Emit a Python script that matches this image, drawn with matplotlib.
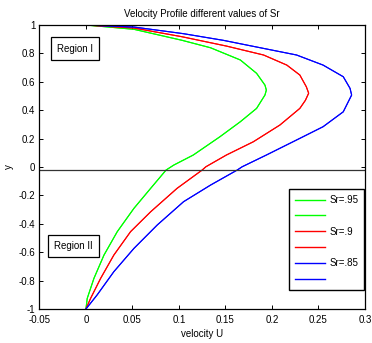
import matplotlib
matplotlib.use("Agg")
import matplotlib.pyplot as plt

plt.rcParams['font.family'] = ['Liberation Sans', 'DejaVu Sans']

# data (y, U)
y_green = [1.0, 0.970, 0.893, 0.840, 0.754, 0.660, 0.577, 0.542, 0.507, 0.413, 0.319, 0.213, 0.0845, 0.014,
           -0.021, -0.150, -0.291, -0.455, -0.620, -0.784, -0.925, -1.0]
u_green = [0.0, 0.0516, 0.103, 0.134, 0.166, 0.1835, 0.1925, 0.194, 0.1925, 0.1835, 0.166, 0.144, 0.1154, 0.0945,
           0.0862, 0.0696, 0.0516, 0.0337, 0.0194, 0.0086, 0.0014, 0.0]

y_red = [1.0, 0.979, 0.918, 0.852, 0.789, 0.718, 0.648, 0.565, 0.520, 0.470, 0.413, 0.296, 0.178, 0.0845, 0.002,
         -0.021, -0.150, -0.315, -0.455, -0.620, -0.784, -0.925, -1.0]
u_red = [0.0, 0.0516, 0.103, 0.151, 0.191, 0.216, 0.230, 0.237, 0.2395, 0.236, 0.230, 0.2086, 0.180, 0.151, 0.129,
         0.125, 0.098, 0.0696, 0.048, 0.030, 0.0158, 0.005, 0.0]

y_blue = [1.0, 0.986, 0.939, 0.892, 0.859, 0.789, 0.718, 0.636, 0.554, 0.507, 0.389, 0.284, 0.202, 0.0845, 0.002,
          -0.021, -0.127, -0.244, -0.408, -0.573, -0.737, -0.901, -1.0]
u_blue = [0.0, 0.0516, 0.105, 0.148, 0.173, 0.2265, 0.255, 0.2767, 0.284, 0.2857, 0.2767, 0.255, 0.230, 0.194, 0.168,
          0.1627, 0.134, 0.105, 0.0767, 0.0516, 0.030, 0.012, 0.0]

hline_y = -0.02
xticks = [-0.05, 0, 0.05, 0.1, 0.15, 0.2, 0.25, 0.3]
xtick_labels = ['-0.05', '0', '0.05', '0.1', '0.15', '0.2', '0.25', '0.3']
yticks = [-1, -0.8, -0.6, -0.4, -0.2, 0, 0.2, 0.4, 0.6, 0.8, 1]
ytick_labels = ['-1', '-0.8', '-0.6', '-0.4', '-0.2', '0', '0.2', '0.4', '0.6', '0.8', '1']
labels = ['Sr=.95', '', 'Sr=.9', '', 'Sr=.85', '']

fig = plt.figure(figsize=(3.72, 3.43), dpi=100)
ax = fig.add_axes([0.106, 0.099, 0.875, 0.828])

fs = 7
lw = 0.8
l1, = ax.plot(u_green, y_green, color='#00ff00', lw=lw)
l2, = ax.plot(u_green, y_green, color='#00ff00', lw=lw)
l3, = ax.plot(u_red, y_red, color='#ff0000', lw=lw)
l4, = ax.plot(u_red, y_red, color='#ff0000', lw=lw)
l5, = ax.plot(u_blue, y_blue, color='#0000ff', lw=lw)
l6, = ax.plot(u_blue, y_blue, color='#0000ff', lw=lw)
ax.axhline(hline_y, color='#333333', lw=0.9)

ax.set_xlim(-0.05, 0.3)
ax.set_ylim(-1, 1)
ax.set_xticks(xticks)
ax.set_xticklabels(xtick_labels)
ax.set_yticks(yticks)
ax.set_yticklabels(ytick_labels)
ax.tick_params(direction='in', length=3, width=0.7, labelsize=fs, top=True, right=True)
ax.tick_params(axis='x', pad=4)
ax.tick_params(axis='y', pad=3)
for s in ax.spines.values():
    s.set_linewidth(0.9)

ax.set_title('Velocity Profile different values of Sr', fontsize=fs, pad=5.5)
ax.set_xlabel('velocity U', fontsize=fs, labelpad=3)
ax.set_ylabel('y', fontsize=fs, labelpad=3)

leg = ax.legend([l1, l2, l3, l4, l5, l6], labels, loc='lower right', fontsize=fs,
                frameon=True, fancybox=False, edgecolor='black', framealpha=1,
                handlelength=3.1, handletextpad=0.45, labelspacing=0.6,
                borderpad=0.6, borderaxespad=0, bbox_to_anchor=(0.997, 0.067))
leg.get_frame().set_linewidth(1.0)
for h in leg.get_lines():
    h.set_linewidth(1.0)

bbox = dict(boxstyle='square,pad=0.65', fc='white', ec='black', lw=0.9)
ax.text(0.109, 0.9166, 'Region I', transform=ax.transAxes, fontsize=fs, va='center', ha='center', bbox=bbox)
ax.text(0.1038, 0.2218, 'Region II', transform=ax.transAxes, fontsize=fs, va='center', ha='center', bbox=bbox)

fig.savefig('out.png', dpi=100)
